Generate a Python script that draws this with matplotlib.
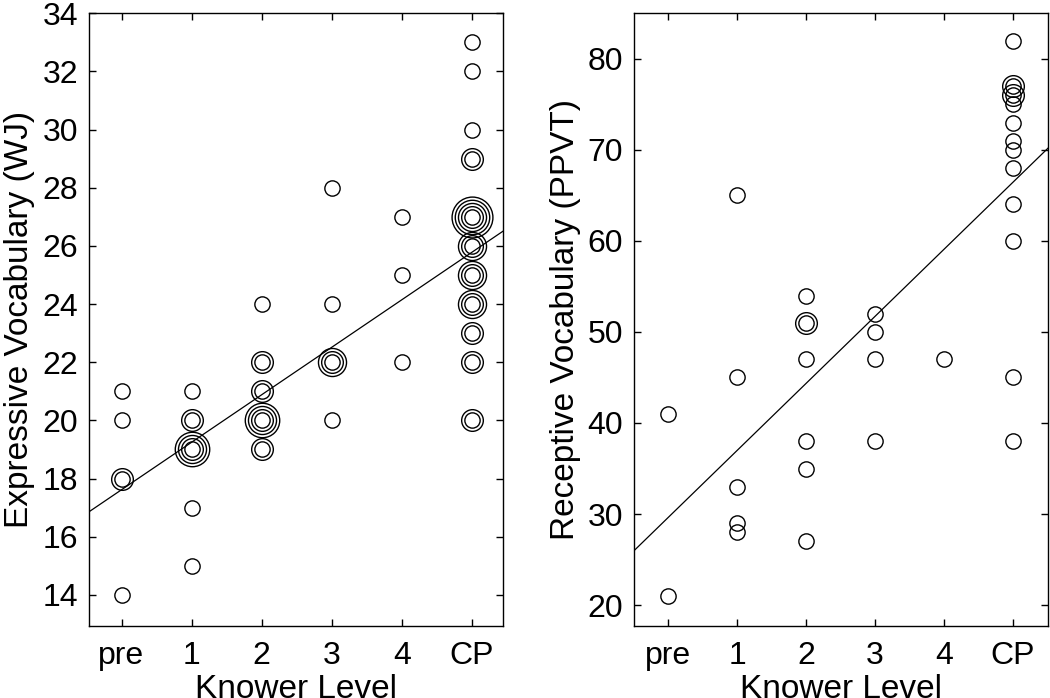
import matplotlib
matplotlib.use("Agg")
import matplotlib.pyplot as plt
import numpy as np

plt.rcParams['font.family'] = ['Liberation Sans', 'DejaVu Sans']

levels = ["pre", "1", "2", "3", "4", "CP"]

# Expressive vocabulary (WJ): (knower level index, score, count)
wj_level = [0, 0, 0, 0,
            1, 1, 1, 1, 1,
            2, 2, 2, 2, 2,
            3, 3, 3, 3,
            4, 4, 4,
            5, 5, 5, 5, 5, 5, 5, 5, 5, 5, 5]
wj_score = [14, 18, 20, 21,
            15, 17, 19, 20, 21,
            19, 20, 21, 22, 24,
            20, 22, 24, 28,
            22, 25, 27,
            20, 22, 23, 24, 25, 26, 27, 29, 30, 32, 33]
wj_count = [1, 2, 1, 1,
            1, 1, 4, 2, 1,
            2, 4, 2, 2, 1,
            1, 3, 1, 1,
            1, 1, 1,
            2, 2, 2, 3, 3, 3, 5, 2, 1, 1, 1]

# Receptive vocabulary (PPVT)
ppvt_level = [0, 0,
              1, 1, 1, 1, 1,
              2, 2, 2, 2, 2, 2,
              3, 3, 3, 3,
              4,
              5, 5, 5, 5, 5, 5, 5, 5, 5, 5, 5, 5]
ppvt_score = [21, 41,
              28, 29, 33, 45, 65,
              27, 35, 38, 47, 51, 54,
              38, 47, 50, 52,
              47,
              38, 45, 60, 64, 68, 70, 71, 73, 75, 76, 77, 82]
ppvt_count = [1, 1,
              1, 1, 1, 1, 1,
              1, 1, 1, 1, 2, 1,
              1, 1, 1, 1,
              1,
              1, 1, 1, 1, 1, 1, 1, 1, 1, 2, 2, 1]

W, H = 1050, 698
fig = plt.figure(figsize=(W / 100, H / 100), dpi=100)

ax1 = fig.add_axes([89.3 / W, (H - 626) / H, 414 / W, 612.7 / H])
ax2 = fig.add_axes([634.3 / W, (H - 626) / H, 414 / W, 612.7 / H])

FS_TICK = 23
FS_LAB = 24
MS0 = 11.0
DMS = 4.6


def panel(ax, lv, sc, ct, ylim, yticks, ylabel, xlim):
    lv = np.asarray(lv); sc = np.asarray(sc, float); ct = np.asarray(ct)
    for x, y, c in zip(lv, sc, ct):
        for k in range(c):
            ax.plot([x], [y], 'o', ms=MS0 + k * DMS, mfc='none', mec='black',
                    mew=1.0, zorder=3)
    # regression on all individual observations
    xs = np.repeat(lv, ct); ys = np.repeat(sc, ct)
    b, a = np.polyfit(xs, ys, 1)
    xx = np.array(xlim)
    ax.plot(xx, a + b * xx, color='black', lw=0.9, zorder=2)
    ax.set_xlim(*xlim)
    ax.set_ylim(*ylim)
    ax.set_xticks(range(len(levels)))
    ax.set_xticklabels(levels)
    ax.set_yticks(yticks)
    ax.tick_params(direction='in', length=5, width=1, top=True, right=True,
                   labelsize=FS_TICK, pad=8)
    ax.tick_params(axis='x', pad=11)
    for s in ax.spines.values():
        s.set_linewidth(1.0)
    ax.set_xlabel("Knower Level", fontsize=FS_LAB, labelpad=2)
    ax.set_ylabel(ylabel, fontsize=FS_LAB, labelpad=5)


panel(ax1, wj_level, wj_score, wj_count, (12.93, 34), range(14, 35, 2),
      "Expressive Vocabulary (WJ)", (-0.46, 5.45))
panel(ax2, ppvt_level, ppvt_score, ppvt_count, (17.7, 85), range(20, 81, 10),
      "Receptive Vocabulary (PPVT)", (-0.49, 5.51))

fig.savefig("out.png", dpi=100)
